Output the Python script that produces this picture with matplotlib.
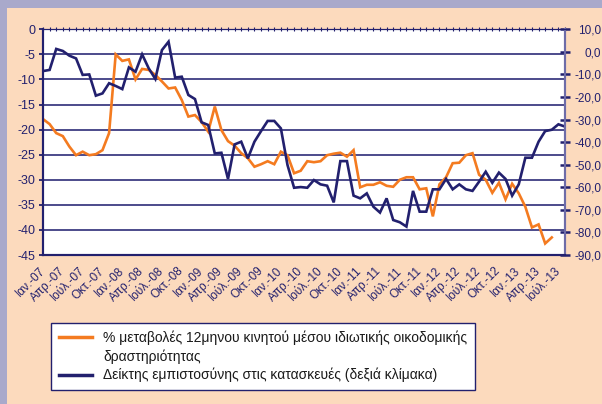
import numpy as np
import matplotlib
matplotlib.use("Agg")
import matplotlib.pyplot as plt
from matplotlib.lines import Line2D
from matplotlib.patches import Rectangle

plt.rcParams['font.family'] = ['Liberation Sans', 'DejaVu Sans']
plt.rcParams['axes.unicode_minus'] = False

# monthly data Jan 2007 - Aug 2013
months_gr = ['Ιαν.', 'Απρ.', 'Ιούλ.', 'Οκτ.']
years = ['07', '08', '09', '10', '11', '12', '13']

# % change of 12-month moving average of private building activity (left axis)
building = [-17.9, -18.9, -20.7, -21.3, -23.4, -25.1, -24.4, -25.1, -24.9, -24.1,
            -20.7, -5.0, -6.3, -6.0, -10.0, -7.9, -8.1, -9.1, -10.4, -11.8,
            -11.6, -14.1, -17.4, -17.1, -18.5, -20.4, -15.4, -20.1, -22.3, -23.2,
            -24.7, -25.7, -27.4, -26.9, -26.3, -26.9, -24.4, -25.1, -28.7, -28.2,
            -26.3, -26.5, -26.3, -25.1, -24.8, -24.6, -25.4, -24.1, -31.5, -31.0,
            -31.0, -30.5, -31.2, -31.4, -30.0, -29.5, -29.5, -31.9, -31.7, -37.3,
            -30.9, -29.5, -26.7, -26.6, -25.1, -24.7, -29.0, -30.0, -32.6, -30.6,
            -33.9, -30.8, -32.7, -35.4, -39.5, -38.9, -42.7, -41.5, np.nan, np.nan]

# construction confidence indicator (right axis)
confidence = [-8.5, -8.0, 1.3, 0.4, -1.7, -2.9, -10.2, -10.0, -19.4, -18.4,
              -13.9, -15.1, -16.5, -6.9, -8.8, -1.1, -7.3, -12.0, 0.8, 4.5,
              -11.4, -11.0, -19.1, -20.9, -31.2, -32.4, -45.0, -44.7, -56.3, -41.0,
              -39.8, -47.2, -39.8, -35.1, -30.6, -30.6, -33.9, -50.1, -60.2, -59.9,
              -60.2, -56.8, -58.7, -59.3, -66.7, -48.4, -48.4, -63.7, -64.9, -62.7,
              -68.6, -71.2, -64.9, -74.5, -75.5, -77.4, -61.6, -70.8, -70.8, -60.9,
              -60.9, -56.3, -60.9, -58.7, -60.9, -61.6, -57.5, -53.1, -58.0, -53.5,
              -56.3, -63.7, -58.7, -46.9, -46.9, -39.8, -35.1, -34.5, -32.1, -33.1]

label_orange = "% μεταβολές 12μηνου κινητού μέσου ιδιωτικής οικοδομικής"
label_orange2 = "δραστηριότητας"
label_blue = "Δείκτης εμπιστοσύνης στις κατασκευές (δεξιά κλίμακα)"

navy = '#22206E'
orange = '#F47B20'
peach = '#FCDABD'
lavender = '#A9A9CB'

x = np.arange(len(confidence))
xlabels = [m + '-' + y for y in years for m in months_gr][:27]

fig = plt.figure(figsize=(6.02, 4.04), dpi=100)
fig.patch.set_facecolor(lavender)
fig.patches.append(Rectangle((7 / 602, 0), 1, 1 - 8 / 404, transform=fig.transFigure,
                             facecolor=peach, edgecolor='none', zorder=-10))

ax = fig.add_axes([43 / 602, 1 - 255 / 404, 522 / 602, 225.7 / 404])
ax.set_facecolor('white')
ax2 = ax.twinx()

ax.plot(x, building, color=orange, lw=1.9, solid_joinstyle='miter')
ax2.plot(x, confidence, color=navy, lw=1.9, solid_joinstyle='miter')

ax.set_xlim(0, len(x) - 1)
ax.set_ylim(-45, 0)
ax2.set_ylim(-90, 10)

ax.set_yticks(np.arange(0, -46, -5))
ax.set_yticklabels([str(v) for v in range(0, -46, -5)])
ax.grid(axis='y', color='#2E2C78', lw=1.2)
ax.set_axisbelow(True)

ax2.set_yticks(np.arange(10, -91, -10))
ax2.set_yticklabels([('%.1f' % v).replace('.', ',') for v in range(10, -91, -10)])
for t in ax2.get_yticklabels():
    t.set_horizontalalignment('right')

ax.set_xticks(x[::3])
ax.set_xticklabels(xlabels, rotation=45, ha='right', va='center', rotation_mode='anchor')
ax.set_xticks(x, minor=True)

ax.tick_params(axis='x', which='both', top=True, bottom=False, labelbottom=True,
               length=2.5, width=0.8, direction='inout', color=navy, pad=9,
               labelsize=8.5, labelcolor=navy)
ax.tick_params(axis='y', length=3, width=1.3, color=navy, pad=2.5,
               labelsize=9, labelcolor=navy)
ax2.tick_params(axis='y', length=7, width=1.8, direction='inout', color=navy,
                pad=22.5, labelsize=8.5, labelcolor=navy)

for a in (ax, ax2):
    a.spines['left'].set_color(navy)
    a.spines['bottom'].set_color(navy)
    a.spines['top'].set_color(navy)
    a.spines['right'].set_color('#6E6CA8')
    a.spines['left'].set_linewidth(1.5)
    a.spines['bottom'].set_linewidth(1.5)
    a.spines['top'].set_linewidth(0.8)
    a.spines['right'].set_linewidth(1.5)

handles = [Line2D([], [], color=orange, lw=2.5),
           Line2D([], [], color='none'),
           Line2D([], [], color=navy, lw=2.5)]
leg = fig.legend(handles, [label_orange, label_orange2, label_blue],
                 loc='upper left', bbox_to_anchor=(51 / 602, 1 - 323 / 404),
                 frameon=True, fancybox=False, fontsize=10, framealpha=1,
                 handlelength=2.4, handletextpad=0.8, labelspacing=0.3,
                 borderpad=0.55, borderaxespad=0)
leg.get_frame().set_edgecolor(navy)
leg.get_frame().set_linewidth(1.0)
leg.get_frame().set_facecolor('white')
for t in leg.get_texts():
    t.set_color('#1A1A1A')

fig.savefig('out.png', dpi=100, facecolor=fig.get_facecolor())
